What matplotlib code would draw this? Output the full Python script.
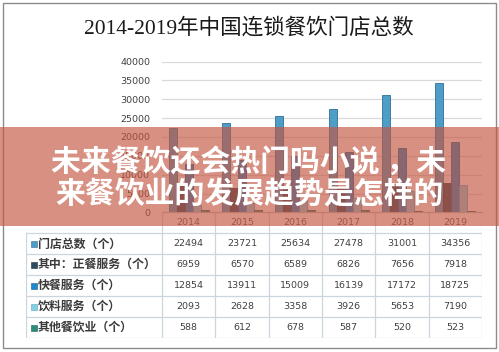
import matplotlib
matplotlib.use("Agg")
import matplotlib.pyplot as plt
from matplotlib.patches import Rectangle
from matplotlib.lines import Line2D

years = ["2014", "2015", "2016", "2017", "2018", "2019"]
series_names = ["门店总数（个）", "其中：正餐服务（个）", "快餐服务（个）", "饮料服务（个）", "其他餐饮业（个）"]
total_stores = [22494, 23721, 25634, 27478, 31001, 34356]
formal_dining = [6959, 6570, 6589, 6826, 7656, 7918]
fast_food = [12854, 13911, 15009, 16139, 17172, 18725]
beverage = [2093, 2628, 3358, 3926, 5653, 7190]
other_dining = [588, 612, 678, 587, 520, 523]
series_values = [total_stores, formal_dining, fast_food, beverage, other_dining]
y_ticks = [0, 5000, 10000, 15000, 20000, 25000, 30000, 35000, 40000]

title = "2014-2019年中国连锁餐饮门店总数"
banner_line1 = "未来餐饮还会热门吗小说 ，未"
banner_line2 = "来餐饮业的发展趋势是怎样的"

colors = ["#4e9cc8", "#2c4b60", "#1f87cc", "#86d0e6", "#2e8c7a"]
edges = ["#2f6f95", "#1c3344", "#165f90", "#5aa6bd", "#1f6355"]

W, H = 499, 352
fig = plt.figure(figsize=(W / 100, H / 100), dpi=100)
fig.patch.set_facecolor("white")


def px_rect(l, t, r, b):
    return [l / W, 1 - b / H, (r - l) / W, (b - t) / H]


# ---- chart ----
ax = fig.add_axes(px_rect(162, 61.5, 482, 212.5))
ax.set_xlim(-0.5, 5.5)
ax.set_ylim(0, 40000)
bw = 0.15
for s, vals in enumerate(series_values):
    off = (s - 2) * bw
    ax.bar([i + off for i in range(len(years))], vals, width=bw,
           color=colors[s], edgecolor=edges[s], linewidth=0.6, zorder=3)
ax.set_yticks(y_ticks)
ax.set_yticklabels([str(v) for v in y_ticks])
ax.yaxis.grid(True, color="#d9d9d9", linewidth=0.9, zorder=0)
ax.set_xticks([])
for sp in ["top", "right", "left"]:
    ax.spines[sp].set_visible(False)
ax.spines["bottom"].set_color("#bfbfbf")
ax.spines["bottom"].set_linewidth(0.9)
ax.tick_params(axis="y", length=0, pad=8.5, labelsize=6.8, labelcolor="#404040")
for lab in ax.get_yticklabels():
    lab.set_fontfamily("DejaVu Sans")

# ---- table ----
col_w = 320 / 6
left_x = -0.5 - 136 / col_w
tax = fig.add_axes(px_rect(26, 212.5, 482, 338))
tax.set_xlim(left_x, 5.5)
tax.set_ylim(6, 0)
tax.axis("off")
lc = "#cdd5dc"
for r in range(1, 7):
    tax.add_line(Line2D([left_x, 5.5], [r, r], color=lc, lw=0.9))
for k in range(7):
    tax.add_line(Line2D([-0.5 + k, -0.5 + k], [0, 6], color=lc, lw=0.9))
tax.add_line(Line2D([left_x, left_x], [1, 6], color=lc, lw=0.9))
for i, y in enumerate(years):
    tax.text(i, 0.5, y, ha="center", va="center", fontsize=6.8,
             color="#595959", family="DejaVu Sans")
for s, vals in enumerate(series_values):
    r = s + 1
    tax.scatter([left_x + 7.5 / col_w], [r + 0.5], marker="s", s=14,
                color=colors[s], edgecolors=edges[s], linewidths=0.4)
    tax.text(left_x + 12 / col_w, r + 0.5, series_names[s], ha="left", va="center",
             fontsize=8.6, color="#3a3a3a", fontweight="bold",
             family=["Noto Sans CJK SC", "DejaVu Sans"])
    for i, v in enumerate(vals):
        tax.text(i, r + 0.5, str(v), ha="center", va="center", fontsize=6.8,
                 color="#404040", family="DejaVu Sans")

# ---- title ----
fig.text(249 / W, 1 - 28 / H, title, ha="center", va="center", fontsize=15.5,
         color="#1a1a1a", family=["Liberation Serif", "Noto Sans CJK SC"])

# ---- frame ----
fig.patches.append(Rectangle((3 / W, 1 - 348 / H), 493 / W, 345 / H, transform=fig.transFigure,
                             fill=False, edgecolor="#8c8c8c", linewidth=1.0, zorder=4))

# ---- banner overlay ----
fig.patches.append(Rectangle((0, 1 - 226 / H), 1, 99 / H, transform=fig.transFigure,
                             facecolor="#c4553f", alpha=0.65, edgecolor="none", zorder=5))
fig.text(249 / W, 1 - 162 / H, banner_line1, ha="center", va="center", fontsize=21.5,
         color="white", fontweight="bold", family=["Noto Sans CJK SC", "DejaVu Sans"], zorder=6)
fig.text(250 / W, 1 - 194 / H, banner_line2, ha="center", va="center", fontsize=21.5,
         color="white", fontweight="bold", family=["Noto Sans CJK SC", "DejaVu Sans"], zorder=6)

fig.savefig("out.png", dpi=100)
